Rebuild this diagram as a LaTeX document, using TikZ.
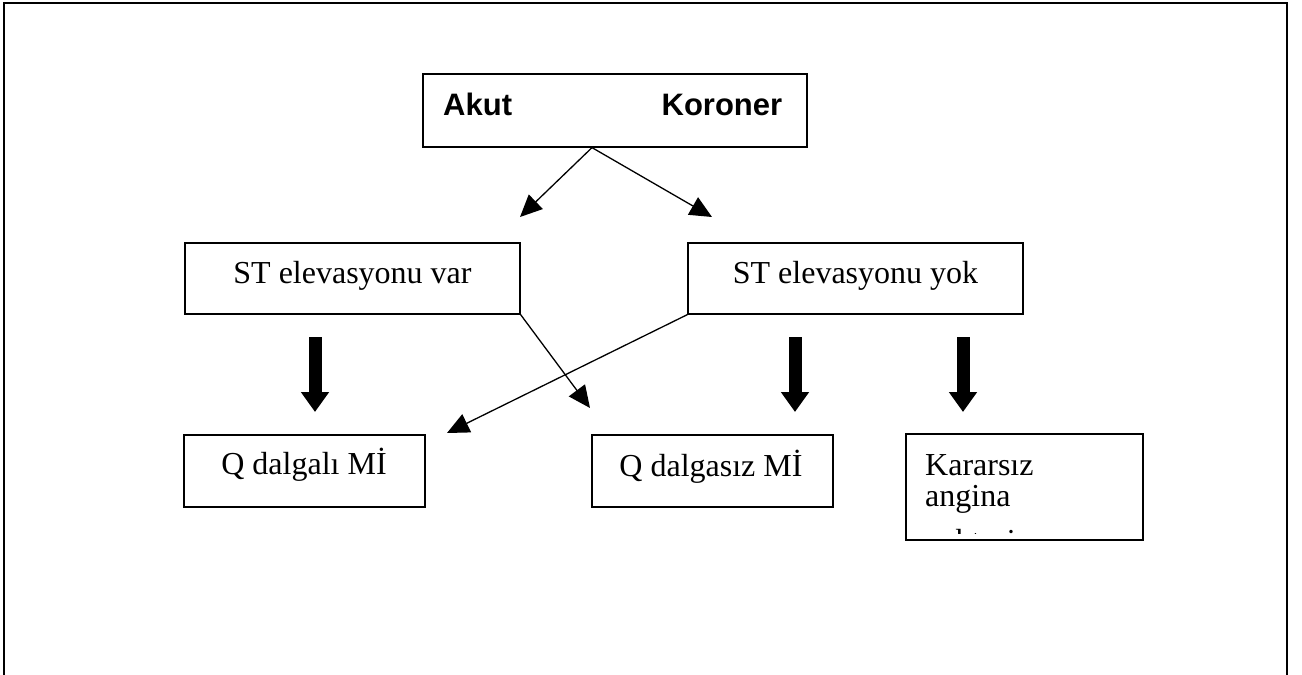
\documentclass[tikz,border=0pt]{standalone}
\usepackage{fontspec}
\setmainfont{Liberation Serif}
\newfontfamily\arialfont{Liberation Sans}
\usetikzlibrary{arrows.meta}

\begin{document}
\begin{tikzpicture}[x=1pt,y=-1pt,
  box/.style={draw,line width=1.2pt,inner sep=0pt},
  txt/.style={font=\fontsize{32}{31}\selectfont,inner sep=0pt},
  link/.style={line width=1.3pt,-{Triangle[length=22pt,width=20pt]}},
  bigarrow/.style={line width=13pt,-{Triangle[length=20pt,width=27pt]}}]
  \useasboundingbox (0,0) rectangle (1302,675);
  % page frame, open at the bottom
  \draw[line width=2.6pt] (4,675) -- (4,3) -- (1287,3) -- (1287,675);
  % boxes
  \node[box,minimum width=384pt,minimum height=73pt] (akut) at (615,110.5) {};
  \node[box,minimum width=335pt,minimum height=71pt] (var) at (352.5,278.5) {};
  \node[box,minimum width=335pt,minimum height=71pt] (yok) at (855.5,278.5) {};
  \node[box,minimum width=241pt,minimum height=72pt] (qwave) at (304.5,471) {};
  \node[box,minimum width=241pt,minimum height=72pt] (nonq) at (712.5,471) {};
  \node[box,minimum width=237pt,minimum height=106pt] (unstable) at (1024.5,487) {};
  % texts
  \node[anchor=base west,inner sep=0pt,font=\arialfont\bfseries\fontsize{31}{31}\selectfont]
       (akut-t) at (443,115) {\makebox[339pt]{Akut\hfill Koroner}};
  \node[txt,anchor=base] (var-t) at (352.5,283) {ST elevasyonu var};
  \node[txt,anchor=base] (yok-t) at (855.5,283) {ST elevasyonu yok};
  \node[txt,anchor=base] (qwave-t) at (304,474) {Q dalgalı Mİ};
  \node[txt,anchor=base] (nonq-t) at (711,476) {Q dalgasız Mİ};
  \begin{scope}
    \clip (906,434) rectangle (1143,533);
    % base of the last line; the third line is cut by the box
    \node[txt,anchor=base west,align=left] (unstable-t) at (925,551)
         {Kararsız\\angina\\[14pt]pektoris};
  \end{scope}
  % thin arrows
  \path (akut.south) ++(-23,0) coordinate (fork);
  \coordinate (var-tip) at (520,217);
  \coordinate (yok-tip) at (712,217);
  \coordinate (nonq-tip) at (590,408);
  \coordinate (qwave-tip) at (447,433);
  \draw[link] (fork) -- (var-tip);
  \draw[link] (fork) -- (yok-tip);
  \draw[link] (var.south east) -- (nonq-tip);
  \draw[link] (yok.south west) -- (qwave-tip);
  % thick arrows
  \foreach \x/\n in {315/qw,795/nq,963/un}{
    \coordinate (\n-top) at (\x,337);
    \coordinate (\n-end) at (\x,412);
    \draw[bigarrow] (\n-top) -- (\n-end);
  }
\end{tikzpicture}
\end{document}
